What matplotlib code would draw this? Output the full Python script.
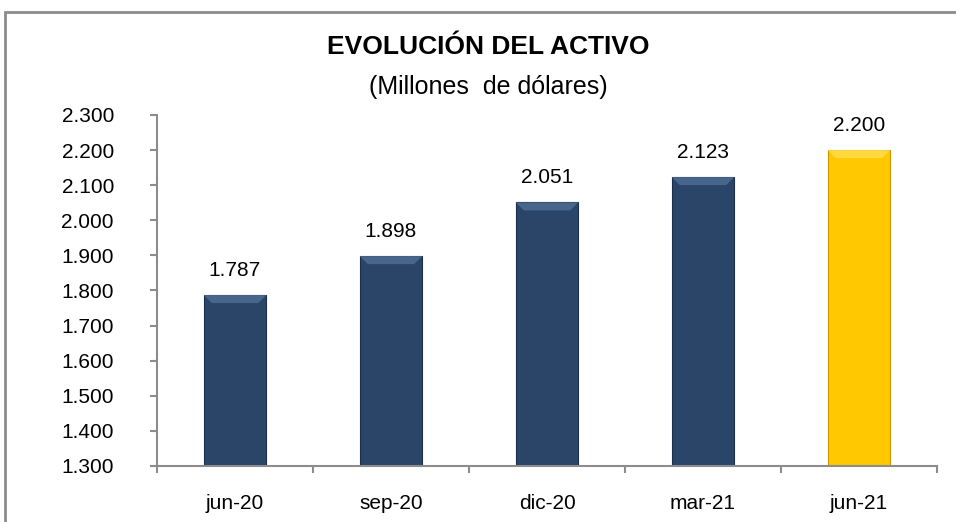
import matplotlib
matplotlib.use("Agg")
import matplotlib.pyplot as plt
from matplotlib.patches import Rectangle, Polygon

categories = ["jun-20", "sep-20", "dic-20", "mar-21", "jun-21"]
values = [1787, 1898, 2051, 2123, 2200]
labels = ["1.787", "1.898", "2.051", "2.123", "2.200"]
yticks = [1300, 1400, 1500, 1600, 1700, 1800, 1900, 2000, 2100, 2200, 2300]

plt.rcParams["font.family"] = ["Liberation Sans", "DejaVu Sans"]

navy = "#2B4569"
navy_hi = "#48658C"
navy_edge = "#1C2F4C"
gold = "#FFC800"
gold_hi = "#FFD93F"
gold_edge = "#C99700"
colors = [navy] * 4 + [gold]
highs = [navy_hi] * 4 + [gold_hi]
edges = [navy_edge] * 4 + [gold_edge]

fig = plt.figure(figsize=(9.56, 5.22), dpi=100)
# outer chart frame
fig.patches.append(Rectangle((5 / 956, -0.1), 1.2, 1.1 - 12 / 522, transform=fig.transFigure,
                             fill=False, edgecolor="#8C8C8C", linewidth=2))

ax = fig.add_axes([157 / 956, 56 / 522, 780 / 956, 351 / 522])
ax.set_ylim(1300, 2300)
ax.set_xlim(-0.5, len(categories) - 0.5)
x = list(range(len(categories)))
w = 0.4
ax.bar(x, values, width=w, color=colors, edgecolor=edges, linewidth=0.8)

# bevel on the top of each bar (about 8 px deep)
dx = 8 / 156
dy = 8 * 1000 / 351
for xi, v, hi in zip(x, values, highs):
    l, r = xi - w / 2, xi + w / 2
    ax.add_patch(Polygon([(l, v), (r, v), (r - dx, v - dy), (l + dx, v - dy)],
                         closed=True, color=hi, linewidth=0, zorder=3))

for xi, v, lab in zip(x, values, labels):
    ax.annotate(lab, (xi, v), xytext=(0, 11), textcoords="offset points",
                ha="center", va="bottom", fontsize=15)

ax.set_yticks(yticks)
ax.set_yticklabels([f"{t/1000:.3f}" for t in yticks], fontsize=15)
ax.set_xticks(x)
ax.set_xticklabels(categories, fontsize=15)
ax.tick_params(axis="x", length=0, pad=20)
ax.tick_params(axis="y", length=5, width=1.5, color="#8C8C8C", pad=26)
ax.set_xticks([i - 0.5 for i in range(len(categories) + 1)], minor=True)
ax.tick_params(axis="x", which="minor", length=5, width=1.5, color="#8C8C8C")

for side in ["top", "right"]:
    ax.spines[side].set_visible(False)
for side in ["left", "bottom"]:
    ax.spines[side].set_color("#8C8C8C")
    ax.spines[side].set_linewidth(1.5)

fig.text(488 / 956, 1 - 47 / 522, "EVOLUCIÓN DEL ACTIVO", ha="center", va="center",
         fontsize=19, fontweight="bold")
fig.text(488 / 956, 1 - 87 / 522, "(Millones  de dólares)", ha="center", va="center",
         fontsize=18)

fig.savefig("out.png", dpi=100)
